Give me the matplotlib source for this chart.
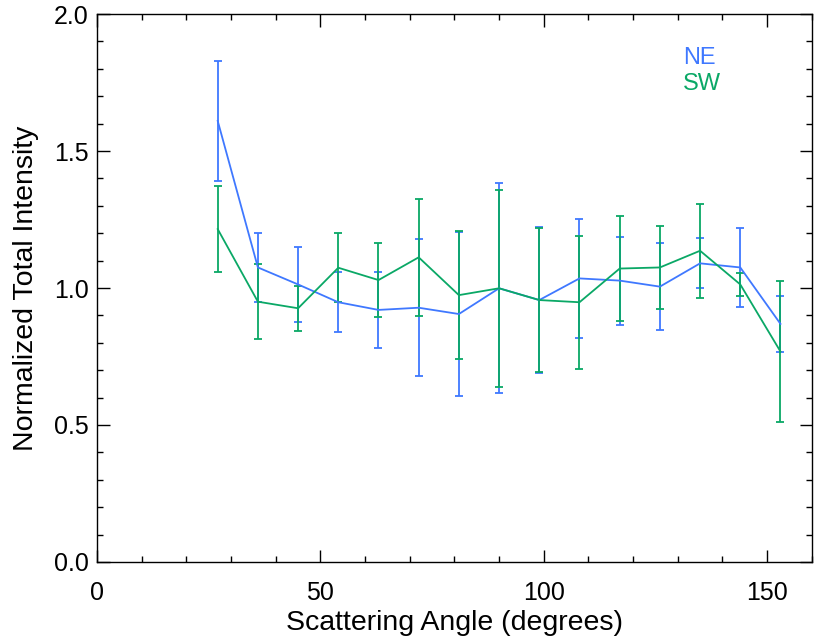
import matplotlib
matplotlib.use("Agg")
import matplotlib.pyplot as plt
from matplotlib.ticker import MultipleLocator

plt.rcParams["font.family"] = ["Liberation Sans", "DejaVu Sans"]

BLUE, GREEN = "#3f78ff", "#0aa866"

angle = [27, 36, 45, 54, 63, 72, 81, 90, 99, 108, 117, 126, 135, 144, 153]
ne_val = [1.61, 1.075, 1.013, 0.948, 0.920, 0.928, 0.905, 0.999, 0.956, 1.035,
          1.027, 1.005, 1.090, 1.075, 0.869]
ne_err = [0.22, 0.126, 0.137, 0.11, 0.138, 0.25, 0.30, 0.383, 0.265, 0.216,
          0.161, 0.158, 0.091, 0.145, 0.101]
sw_val = [1.215, 0.950, 0.926, 1.074, 1.029, 1.112, 0.974, 0.999, 0.956, 0.948,
          1.071, 1.075, 1.136, 1.013, 0.768]
sw_err = [0.157, 0.138, 0.083, 0.125, 0.135, 0.213, 0.234, 0.36, 0.263, 0.243,
          0.193, 0.151, 0.172, 0.042, 0.256]

fig = plt.figure(figsize=(8.3, 6.4), dpi=100)
ax = fig.add_axes([0.117, 0.122, 0.861, 0.856])

for v, e, c in ((ne_val, ne_err, BLUE), (sw_val, sw_err, GREEN)):
    ax.errorbar(angle, v, yerr=e, color=c, lw=1.3, elinewidth=1.3,
                capsize=3, capthick=1.3)

ax.set_xlim(0, 160)
ax.set_ylim(0, 2.0)
ax.xaxis.set_major_locator(MultipleLocator(50))
ax.xaxis.set_minor_locator(MultipleLocator(10))
ax.yaxis.set_major_locator(MultipleLocator(0.5))
ax.yaxis.set_minor_locator(MultipleLocator(0.1))
ax.yaxis.set_major_formatter(matplotlib.ticker.FormatStrFormatter("%.1f"))
ax.tick_params(which="both", direction="in", top=True, right=True,
               labelsize=18, width=1.0, colors="black")
ax.tick_params(which="major", length=9, pad=6)
ax.tick_params(axis="x", which="major", pad=14)
ax.tick_params(which="minor", length=4.5)
for s in ax.spines.values():
    s.set_linewidth(1.0)
    s.set_color("black")

ax.set_xlabel("Scattering Angle (degrees)", fontsize=20.5, labelpad=3)
ax.set_ylabel("Normalized Total Intensity", fontsize=20.5, labelpad=11)

ax.text(0.82, 0.908, "NE", color=BLUE, fontsize=17, transform=ax.transAxes)
ax.text(0.82, 0.862, "SW", color=GREEN, fontsize=17, transform=ax.transAxes)

fig.savefig("out.png", dpi=100)
